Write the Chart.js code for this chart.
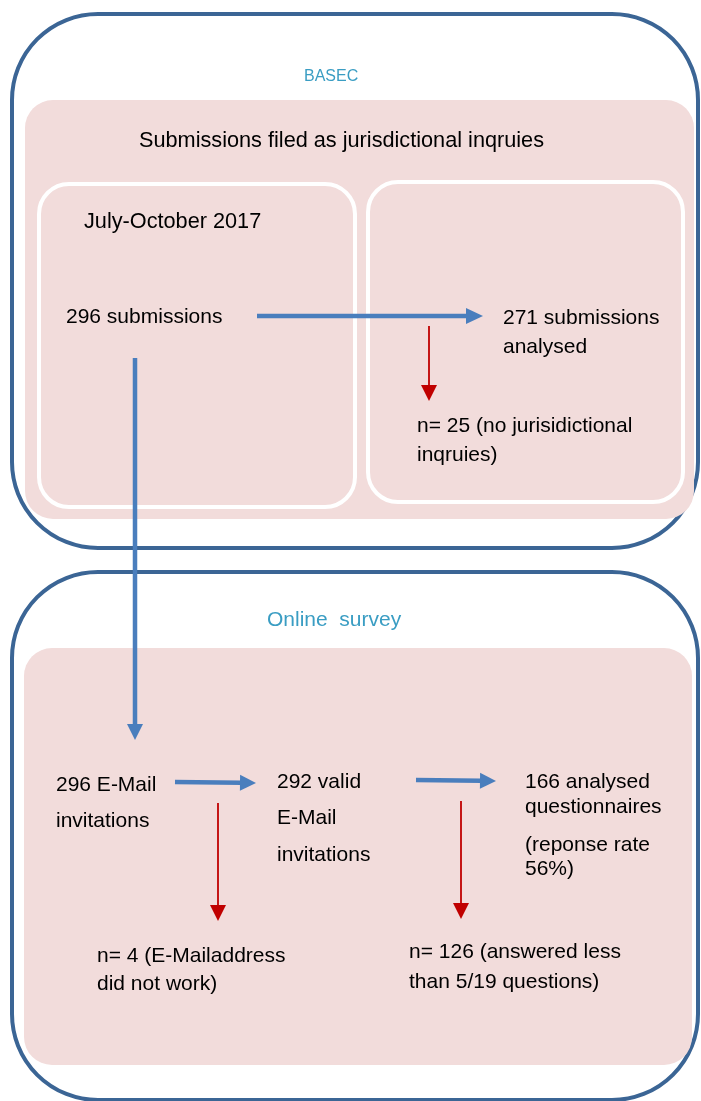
<!DOCTYPE html>
<html>
<head>
<meta charset="utf-8">
<style>
  html, body { margin: 0; padding: 0; background: #ffffff; }
  #wrap { width: 701px; height: 1101px; }
</style>
<script src="https://cdn.jsdelivr.net/npm/chart.js@4/dist/chart.umd.min.js"></script>
</head>
<body>
<div id="wrap"><canvas id="c" width="701" height="1101"></canvas></div>
<script>
// ---------- content (text) ----------
const sectionTitles = ["BASEC", "Online  survey"];
const groupTitle = ["Submissions filed as jurisdictional inqruies"];
const periodLabel = ["July-October 2017"];
const basecLabels = [
  ["296 submissions"],
  ["271 submissions", "analysed"],
  ["n= 25 (no jurisidictional", "inqruies)"]
];
const surveyLabels = [
  ["296 E-Mail", "invitations"],
  ["292 valid", "E-Mail", "invitations"],
  ["166 analysed", "questionnaires", "(reponse rate", "56%)"],
  ["n= 4 (E-Mailaddress", "did not work)"],
  ["n= 126 (answered less", "than 5/19 questions)"]
];

// ---------- layout (diagram coordinates, in the chart's own x/y scale units) ----------
const outerBoxes = [[12, 14, 698, 548], [12, 572, 698, 1100]];
const pinkBoxes  = [[25, 100, 694, 519], [24, 648, 692, 1065]];
const whiteBoxes = [[39, 184, 355, 507], [368, 182, 683, 502]];

const flowArrows = [            // blue arrows: [start, tip]
  [[257, 316], [483, 316]],
  [[135, 358], [135, 740]],
  [[175, 782], [256, 783]],
  [[416, 780], [496, 781]]
];
const exclusionArrows = [       // red arrows: [start, tip]
  [[429, 326], [429, 401]],
  [[218, 803], [218, 921]],
  [[461, 801], [461, 919]]
];

// text anchors: [x, baseline y of each line]
const sectionTitlePos = [[304, 81], [267, 626]];
const groupTitlePos = [[139, 147]];
const periodPos = [[84, 228]];
const basecPos = [
  [66, [323]],
  [503, [324, 353]],
  [417, [432, 461]]
];
const surveyPos = [
  [56, [791, 827]],
  [277, [788, 824, 861]],
  [525, [788, 813, 851, 875]],
  [97, [962, 990]],
  [409, [958, 988]]
];

// ---------- styles ----------
const COL_OUTER = '#3b6595';
const COL_PINK = '#f2dcdb';
const COL_BLUE = '#4a7ebd';
const COL_RED = '#c00000';
const COL_TEAL = '#3a9dc3';
const FONT = '"Liberation Sans", Arial, sans-serif';

function roundRect(ctx, x0, y0, x1, y1, r) {
  ctx.beginPath();
  ctx.moveTo(x0 + r, y0);
  ctx.lineTo(x1 - r, y0);
  ctx.arcTo(x1, y0, x1, y0 + r, r);
  ctx.lineTo(x1, y1 - r);
  ctx.arcTo(x1, y1, x1 - r, y1, r);
  ctx.lineTo(x0 + r, y1);
  ctx.arcTo(x0, y1, x0, y1 - r, r);
  ctx.lineTo(x0, y0 + r);
  ctx.arcTo(x0, y0, x0 + r, y0, r);
  ctx.closePath();
}

const diagramPlugin = {
  id: 'diagram',
  beforeDatasetsDraw(chart) {
    const { ctx, scales: { x, y } } = chart;
    const px = v => x.getPixelForValue(v), py = v => y.getPixelForValue(v);
    ctx.save();
    outerBoxes.forEach(b => {
      roundRect(ctx, px(b[0]), py(b[1]), px(b[2]), py(b[3]), 86);
      ctx.lineWidth = 4; ctx.strokeStyle = COL_OUTER; ctx.stroke();
    });
    pinkBoxes.forEach(b => {
      roundRect(ctx, px(b[0]), py(b[1]), px(b[2]), py(b[3]), 28);
      ctx.fillStyle = COL_PINK; ctx.fill();
    });
    whiteBoxes.forEach(b => {
      roundRect(ctx, px(b[0]), py(b[1]), px(b[2]), py(b[3]), 30);
      ctx.lineWidth = 4; ctx.strokeStyle = '#ffffff'; ctx.stroke();
    });
    ctx.restore();
  },
  afterDatasetsDraw(chart) {
    const { ctx, scales: { x, y } } = chart;
    const px = v => x.getPixelForValue(v), py = v => y.getPixelForValue(v);
    ctx.save();
    // arrow heads from each dataset's last two elements
    chart.data.datasets.forEach((ds, i) => {
      const pts = chart.getDatasetMeta(i).data;
      const a = pts[pts.length - 2], b = pts[pts.length - 1];
      const ang = Math.atan2(b.y - a.y, b.x - a.x);
      const L = ds.headLen, W = ds.headW / 2;
      ctx.save();
      ctx.translate(b.x, b.y);
      ctx.rotate(ang);
      ctx.beginPath();
      ctx.moveTo(0, 0);
      ctx.lineTo(-L, -W);
      ctx.lineTo(-L, W);
      ctx.closePath();
      ctx.fillStyle = ds.borderColor;
      ctx.fill();
      ctx.restore();
    });
    // texts
    ctx.textBaseline = 'alphabetic';
    ctx.textAlign = 'left';
    ctx.fillStyle = COL_TEAL;
    ctx.font = '16px ' + FONT;
    ctx.fillText(sectionTitles[0], px(sectionTitlePos[0][0]), py(sectionTitlePos[0][1]));
    ctx.font = '21px ' + FONT;
    ctx.fillText(sectionTitles[1], px(sectionTitlePos[1][0]), py(sectionTitlePos[1][1]));
    ctx.fillStyle = '#000000';
    ctx.font = '21.7px ' + FONT;
    ctx.fillText(groupTitle[0], px(groupTitlePos[0][0]), py(groupTitlePos[0][1]));
    ctx.font = '21.7px ' + FONT;
    ctx.fillText(periodLabel[0], px(periodPos[0][0]), py(periodPos[0][1]));
    ctx.font = '21px ' + FONT;
    basecLabels.forEach((lines, i) => {
      lines.forEach((t, j) => ctx.fillText(t, px(basecPos[i][0]), py(basecPos[i][1][j])));
    });
    surveyLabels.forEach((lines, i) => {
      lines.forEach((t, j) => ctx.fillText(t, px(surveyPos[i][0]), py(surveyPos[i][1][j])));
    });
    ctx.restore();
  }
};

function shaft(arrow, len) {
  // line runs from the start to the base of the head
  const [s, t] = arrow;
  const dx = t[0] - s[0], dy = t[1] - s[1];
  const d = Math.hypot(dx, dy);
  return [{ x: s[0], y: s[1] }, { x: t[0] - dx / d * (len - 1), y: t[1] - dy / d * (len - 1) }, { x: t[0], y: t[1] }];
}

const datasets = [];
flowArrows.forEach((a, i) => {
  const len = i === 0 ? 17 : 16;
  datasets.push({
    data: shaft(a, len),
    showLine: true, borderColor: COL_BLUE, borderWidth: 4.5, pointRadius: 0,
    headLen: len, headW: 16,
    segment: { borderColor: ctx => ctx.p1DataIndex === 2 ? 'rgba(0,0,0,0)' : COL_BLUE }
  });
});
exclusionArrows.forEach(a => {
  datasets.push({
    data: shaft(a, 16),
    showLine: true, borderColor: COL_RED, borderWidth: 1.8, pointRadius: 0,
    headLen: 16, headW: 16,
    segment: { borderColor: ctx => ctx.p1DataIndex === 2 ? 'rgba(0,0,0,0)' : COL_RED }
  });
});

new Chart(document.getElementById('c'), {
  type: 'scatter',
  data: { datasets },
  options: {
    responsive: false,
    animation: false,
    events: [],
    layout: { padding: 0 },
    plugins: { legend: { display: false }, tooltip: { enabled: false } },
    scales: {
      x: { type: 'linear', min: 0, max: 701, display: false },
      y: { type: 'linear', min: 0, max: 1101, reverse: true, display: false }
    }
  },
  plugins: [diagramPlugin]
});
</script>
</body>
</html>
